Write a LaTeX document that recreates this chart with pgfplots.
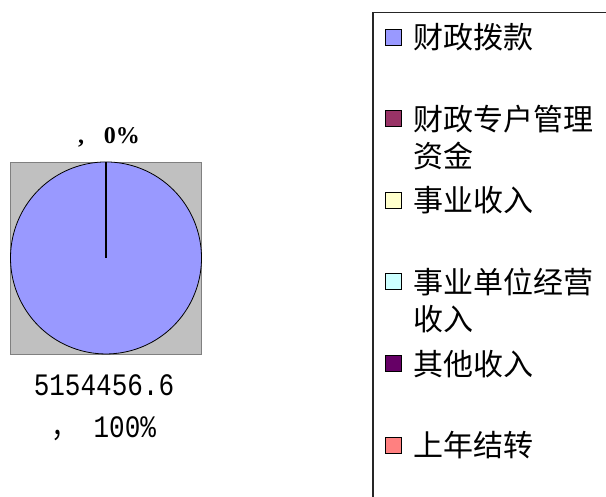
\documentclass[border=0pt]{standalone}
\usepackage{pgfplots}
\pgfplotsset{compat=1.18}
\usepackage{pgfplotstable}
\usepackage{graphicx}
\usepackage{fontspec}
\setmainfont{Liberation Serif}
\newfontfamily\cjk{Noto Sans CJK SC}
\newfontfamily\mono{Liberation Mono}
\definecolor{cA}{HTML}{9999FF}
\definecolor{cB}{HTML}{993366}
\definecolor{cC}{HTML}{FFFFCC}
\definecolor{cD}{HTML}{CCFFFF}
\definecolor{cE}{HTML}{660066}
\definecolor{cF}{HTML}{FF8080}
\definecolor{bgGray}{HTML}{C0C0C0}
\definecolor{bdGray}{HTML}{808080}
% values: 财政拨款 5154456.6, all others 0  -> slice angle 360 deg
\pgfplotstableread{
x y
0 0
0 1
}\radial
\begin{document}
\begin{tikzpicture}[x=1bp,y=1bp]
\clip (0,0) rectangle (606,497);
\path[use as bounding box] (0,0) rectangle (606,497);
\begin{axis}[
  at={(11,149)}, anchor=south west,
  scale only axis, width=191bp, height=192bp,
  xmin=-1, xmax=1, ymin=-1, ymax=1,
  ticks=none,
  axis line style={draw=bdGray, line width=0.8bp},
  axis background/.style={fill=bgGray},
  clip=false,
  legend style={at={(axis description cs:1.895,1.781)}, anchor=north west,
    draw=black!85, line width=1.3bp, fill=white,
    font=\cjk\fontsize{30bp}{37bp}\selectfont,
    inner xsep=12bp, inner ysep=11bp, row sep=0pt, column sep=11bp,
    cells={anchor=base west},
    nodes={inner sep=0pt, text height=25bp, text depth=56.6bp}},
  legend cell align=left,
  legend image code/.code={\draw[#1, line width=0.9bp] (0bp,19.5bp) rectangle (16bp,35.5bp);},
]
\addplot[fill=cA, draw=black, line width=0.8bp, domain=90:-270, samples=241, smooth] ({cos(x)},{sin(x)}) -- cycle;
\addlegendentry{\parbox[t]{220bp}{财政拨款}}
\addplot[black, line width=2.4bp, forget plot] table {\radial};
\addlegendimage{fill=cB, draw=black}
\addlegendentry{\parbox[t]{220bp}{财政专户管理\\资金}}
\addlegendimage{fill=cC, draw=black}
\addlegendentry{\parbox[t]{220bp}{事业收入}}
\addlegendimage{fill=cD, draw=black}
\addlegendentry{\parbox[t]{220bp}{事业单位经营\\收入}}
\addlegendimage{fill=cE, draw=black}
\addlegendentry{\parbox[t]{220bp}{其他收入}}
\addlegendimage{fill=cF, draw=black}
\addlegendentry{\parbox[t]{220bp}{上年结转}}
\end{axis}
\node[font=\fontsize{24bp}{28bp}\selectfont\bfseries] at (109,360) {,\hspace{20bp}0\%};
\node[align=center, font=\mono\fontsize{26bp}{42bp}\selectfont] at (104,89) {\scalebox{1}[1.2]{5154456.6}\\\scalebox{1}[1.2]{{\cjk ，}\ 100\%}};
\end{tikzpicture}
\end{document}
